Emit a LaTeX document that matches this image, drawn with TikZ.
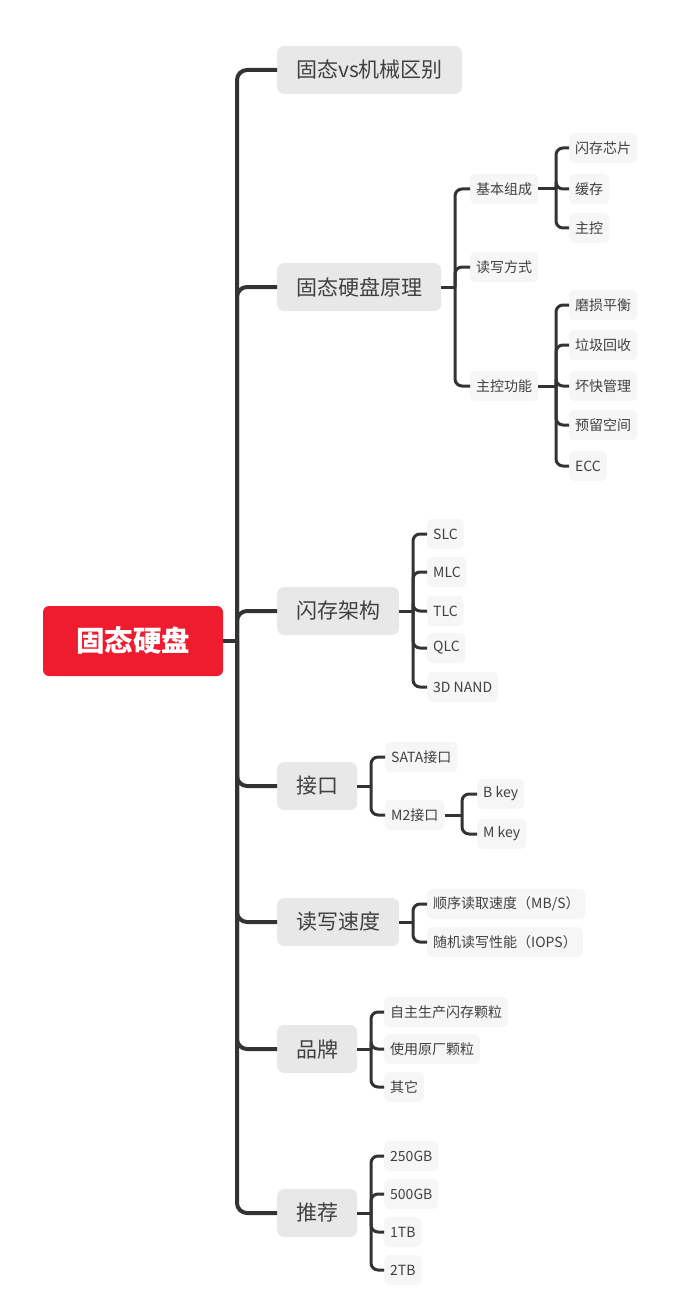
\documentclass[tikz,border=0pt]{standalone}
\usepackage{fontspec}
\setmainfont{Noto Sans CJK SC}
\definecolor{lineC}{HTML}{333333}
\definecolor{lonefill}{HTML}{E8E8E8}
\definecolor{leaffill}{HTML}{F6F6F6}
\definecolor{txt}{HTML}{404040}
\definecolor{rootred}{HTML}{EE1C2E}
\tikzset{
  rootbox/.style={fill=rootred, rounded corners=6pt, minimum width=180pt, minimum height=70pt, text=white, font=\fontsize{28.5}{30}\selectfont\bfseries, inner sep=0pt},
  topic/.style={fill=lonefill, rounded corners=7pt, minimum height=48pt, inner xsep=19pt, anchor=west, text=txt, font=\fontsize{21}{24}\selectfont},
  leaf/.style={fill=leaffill, rounded corners=5pt, minimum height=30pt, inner xsep=6pt, anchor=west, text=txt, font=\fontsize{14}{16}\selectfont},
  trunk/.style={draw=lineC, line width=4pt, rounded corners=10pt},
  branch/.style={draw=lineC, line width=3pt, rounded corners=7pt}
}
\begin{document}
\begin{tikzpicture}[x=1pt,y=-1pt]
\useasboundingbox (0,0) rectangle (677,1297);
% root
\node[rootbox] (root) at (133,641) {固态硬盘};
% level 1
\node[topic] (t1) at (277,70) {固态vs机械区别};
\node[topic] (t2) at (277,287) {固态硬盘原理};
\node[topic] (t3) at (277,611) {闪存架构};
\node[topic] (t4) at (277,786) {接口};
\node[topic] (t5) at (277,922) {读写速度};
\node[topic] (t6) at (277,1049) {品牌};
\node[topic] (t7) at (277,1213) {推荐};
\coordinate (rf) at (237,641);
\draw[trunk] (root.east) -- (rf);
\foreach \c in {t1,t2,t3,t4,t5,t6,t7} { \draw[trunk] (rf) |- (\c.west); }
% 固态硬盘原理
\node[leaf] (b1) at (470,189) {基本组成};
\node[leaf] (b2) at (470,267) {读写方式};
\node[leaf] (b3) at (470,386) {主控功能};
\coordinate (f2) at (455,287);
\draw[branch] (t2.east) -- (f2);
\foreach \c in {b1,b2,b3} { \draw[branch] (f2) |- (\c.west); }
\node[leaf] (c1) at (569,148) {闪存芯片};
\node[leaf] (c2) at (569,189) {缓存};
\node[leaf] (c3) at (569,228) {主控};
\coordinate (fb1) at (556,189);
\draw[branch] (b1.east) -- (fb1);
\foreach \c in {c1,c2,c3} { \draw[branch] (fb1) |- (\c.west); }
\node[leaf] (d1) at (569,305) {磨损平衡};
\node[leaf] (d2) at (569,345) {垃圾回收};
\node[leaf] (d3) at (569,386) {坏快管理};
\node[leaf] (d4) at (569,425) {预留空间};
\node[leaf] (d5) at (569,466) {ECC};
\coordinate (fb3) at (556,386);
\draw[branch] (b3.east) -- (fb3);
\foreach \c in {d1,d2,d3,d4,d5} { \draw[branch] (fb3) |- (\c.west); }
% 闪存架构
\node[leaf] (e1) at (427,534) {SLC};
\node[leaf] (e2) at (427,572) {MLC};
\node[leaf] (e3) at (427,611) {TLC};
\node[leaf] (e4) at (427,648) {QLC};
\node[leaf] (e5) at (427,687) {3D NAND};
\coordinate (f3) at (413,611);
\draw[branch] (t3.east) -- (f3);
\foreach \c in {e1,e2,e3,e4,e5} { \draw[branch] (f3) |- (\c.west); }
% 接口
\node[leaf] (g1) at (385,757) {SATA接口};
\node[leaf] (g2) at (385,815) {M2接口};
\coordinate (f4) at (371,786);
\draw[branch] (t4.east) -- (f4);
\foreach \c in {g1,g2} { \draw[branch] (f4) |- (\c.west); }
\node[leaf] (h1) at (477,794) {B key};
\node[leaf] (h2) at (477,834) {M key};
\coordinate (fg2) at (462,815);
\draw[branch] (g2.east) -- (fg2);
\foreach \c in {h1,h2} { \draw[branch] (fg2) |- (\c.west); }
% 读写速度
\node[leaf] (k1) at (427,904) {顺序读取速度（MB/S）};
\node[leaf] (k2) at (427,942) {随机读写性能（IOPS）};
\coordinate (f5) at (413,922);
\draw[branch] (t5.east) -- (f5);
\foreach \c in {k1,k2} { \draw[branch] (f5) |- (\c.west); }
% 品牌
\node[leaf] (m1) at (384,1012) {自主生产闪存颗粒};
\node[leaf] (m2) at (384,1049) {使用原厂颗粒};
\node[leaf] (m3) at (384,1087) {其它};
\coordinate (f6) at (371,1049);
\draw[branch] (t6.east) -- (f6);
\foreach \c in {m1,m2,m3} { \draw[branch] (f6) |- (\c.west); }
% 推荐
\node[leaf] (n1) at (384,1156) {250GB};
\node[leaf] (n2) at (384,1194) {500GB};
\node[leaf] (n3) at (384,1232) {1TB};
\node[leaf] (n4) at (384,1270) {2TB};
\coordinate (f7) at (371,1213);
\draw[branch] (t7.east) -- (f7);
\foreach \c in {n1,n2,n3,n4} { \draw[branch] (f7) |- (\c.west); }
\end{tikzpicture}
\end{document}
